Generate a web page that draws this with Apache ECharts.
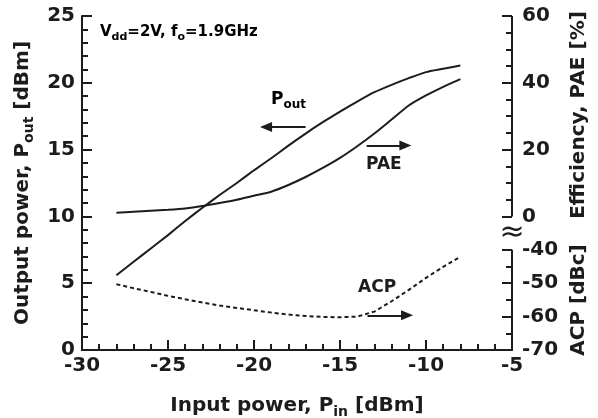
<!DOCTYPE html>
<html>
<head>
<meta charset="utf-8">
<script src="https://cdn.jsdelivr.net/npm/echarts@6/dist/echarts.min.js"></script>
<style>
  html, body { margin: 0; padding: 0; background: #fff; }
  #chart { width: 598px; height: 418px; }
</style>
</head>
<body>
<div id="chart"></div>
<script>
// input power sweep [dBm]
const pin = [-28, -27, -26, -25, -24, -23, -22, -21, -20, -19, -18, -17, -16, -15, -14, -13, -12, -11, -10, -9, -8]
// output power [dBm] (left axis)
const pout = [5.6, 6.6, 7.6, 8.6, 9.65, 10.65, 11.6, 12.5, 13.45, 14.35, 15.3, 16.2, 17.05, 17.85, 18.6, 19.3, 19.85, 20.35, 20.8, 21.05, 21.3]
// power added efficiency [%] (right axis, upper part)
const pae = [1.1, 1.4, 1.7, 2.0, 2.4, 3.1, 4.0, 5.0, 6.2, 7.4, 9.4, 11.8, 14.5, 17.5, 21.0, 24.8, 29.0, 33.2, 36.2, 38.8, 41.1]
// adjacent channel power [dBc] (right axis, lower part)
const acp = [-50.3, -51.5, -52.6, -53.8, -54.8, -55.8, -56.7, -57.4, -58.1, -58.8, -59.4, -59.8, -60.1, -60.2, -60.0, -58.5, -55.4, -52.0, -48.4, -45.1, -42.1]

// right axis tick labels
const effTicks = [0, 20, 40, 60]
const effMinor = [5, 10, 15, 25, 30, 35, 45, 50, 55]
const acpTicks = [-70, -60, -50, -40]
const acpMinor = [-65, -55, -45]

// the right axis is broken: ACP -70..-40 sits below, efficiency 0..60 above
const effToAxis = v => v + 40
const acpToAxis = v => v + 70
const axisToLabel = a => (a >= 40 ? a - 40 : a - 70)

const FONT = 'DejaVu Sans'
const INK = '#1c1c1c'

const chart = echarts.init(document.getElementById('chart'))

const subRich = size => ({
  n: { fontFamily: FONT, fontWeight: 'bold', fontSize: size, color: INK },
  s: { fontFamily: FONT, fontWeight: 'bold', fontSize: Math.round(size * 0.7), color: INK, padding: [Math.round(size * 0.6), 0, 0, 0] }
})

const option = {
  animation: false,
  grid: { left: 82, right: 86, top: 16, bottom: 68, containLabel: false, outerBoundsMode: 'none' },
  xAxis: [
    {
      type: 'value', min: -30, max: -5, interval: 5,
      name: '{n|Input power, P}{s|in}{n| [dBm]}',
      nameLocation: 'middle', nameGap: 43,
      nameTextStyle: { rich: subRich(20) },
      axisLine: { lineStyle: { color: INK, width: 2 } },
      axisTick: { inside: true, length: 10, lineStyle: { color: INK, width: 2 } },
      minorTick: { show: true, splitNumber: 5, length: 6, lineStyle: { color: INK, width: 2 } },
      axisLabel: { color: INK, fontFamily: FONT, fontWeight: 'bold', fontSize: 20, margin: 6 },
      splitLine: { show: false }
    },
    {
      // top frame line
      type: 'value', position: 'top', min: -30, max: -5,
      axisLine: { show: true, lineStyle: { color: INK, width: 2 } },
      axisTick: { show: false }, axisLabel: { show: false }, splitLine: { show: false }
    }
  ],
  yAxis: [
    {
      type: 'value', min: 0, max: 25, interval: 5,
      name: '{n|Output power, P}{s|out}{n| [dBm]}',
      nameLocation: 'middle', nameGap: 44, nameRotate: 90,
      nameTextStyle: { rich: subRich(20) },
      axisLine: { show: true, lineStyle: { color: INK, width: 2 } },
      axisTick: { inside: true, length: 10, lineStyle: { color: INK, width: 2 } },
      minorTick: { show: true, splitNumber: 5, length: 6, lineStyle: { color: INK, width: 2 } },
      axisLabel: { color: INK, fontFamily: FONT, fontWeight: 'bold', fontSize: 20, margin: 7 },
      splitLine: { show: false }
    },
    {
      type: 'value', position: 'right', offset: 0, min: 0, max: 100,
      axisLine: { show: false },
      axisTick: {
        show: true, inside: true, length: 10, lineStyle: { color: INK, width: 2 },
        customValues: [...acpTicks.map(acpToAxis), ...effTicks.map(effToAxis)]
      },
      axisLabel: {
        color: INK, fontFamily: FONT, fontWeight: 'bold', fontSize: 20, margin: 10,
        customValues: [...acpTicks.map(acpToAxis), ...effTicks.map(effToAxis)],
        formatter: v => String(axisToLabel(v))
      },
      splitLine: { show: false }
    },
    {
      type: 'value', position: 'right', offset: 0, min: 0, max: 100,
      axisLine: { show: false },
      axisTick: {
        show: true, inside: true, length: 6, lineStyle: { color: INK, width: 2 },
        customValues: [...acpMinor.map(acpToAxis), ...effMinor.map(effToAxis)]
      },
      axisLabel: { show: false },
      splitLine: { show: false }
    }
  ],
  graphic: [
    {
      type: 'text', left: 100, top: 25,
      style: { text: '{n|V}{s|dd}{n|=2V, f}{s|o}{n|=1.9GHz}', rich: subRich(15) }
    },
    {
      type: 'text', left: 271, top: 91,
      style: { text: '{n|P}{s|out}', rich: subRich(17) }
    },
    {
      type: 'text', left: 366, top: 156,
      style: { text: 'PAE', fill: INK, font: 'bold 17px "' + FONT + '"' }
    },
    {
      type: 'text', left: 358, top: 279,
      style: { text: 'ACP', fill: INK, font: 'bold 17px "' + FONT + '"' }
    },
    {
      type: 'text', x: 579, y: 115, rotation: Math.PI / 2,
      style: { text: 'Efficiency, PAE [%]', fill: INK, font: 'bold 20px "' + FONT + '"', align: 'center', verticalAlign: 'middle' }
    },
    {
      type: 'text', x: 579, y: 300, rotation: Math.PI / 2,
      style: { text: 'ACP [dBc]', fill: INK, font: 'bold 20px "' + FONT + '"', align: 'center', verticalAlign: 'middle' }
    }
  ],
  series: [
    {
      name: 'Pout', type: 'line', xAxisIndex: 0, yAxisIndex: 0,
      data: pin.map((x, i) => [x, pout[i]]),
      showSymbol: false, clip: false, smooth: 0.2,
      lineStyle: { color: INK, width: 2 },
      markLine: {
        silent: true, symbol: ['none', 'triangle'], symbolSize: [10, 12],
        label: { show: false },
        lineStyle: { color: INK, width: 2, type: 'solid' },
        data: [
          [{ coord: [-17.0, 16.7] }, { coord: [-19.3, 16.7] }],
          [{ coord: [-13.45, 15.3] }, { coord: [-11.2, 15.3] }],
          [{ coord: [-13.4, 2.6] }, { coord: [-11.1, 2.6] }]
        ]
      }
    },
    {
      name: 'PAE', type: 'line', xAxisIndex: 0, yAxisIndex: 1,
      data: pin.map((x, i) => [x, effToAxis(pae[i])]),
      showSymbol: false, clip: false, smooth: 0.2,
      lineStyle: { color: INK, width: 2 },
      // broken right axis line and the break mark
      markLine: {
        silent: true, symbol: 'none', label: { show: false },
        lineStyle: { color: INK, width: 2, type: 'solid' },
        data: [
          [{ coord: [-5, acpToAxis(-70)] }, { coord: [-5, acpToAxis(-40)] }],
          [{ coord: [-5, effToAxis(0)] }, { coord: [-5, effToAxis(60)] }]
        ]
      },
      markPoint: {
        silent: true, symbol: 'circle', symbolSize: 1,
        itemStyle: { color: 'rgba(0,0,0,0)' },
        label: { show: true, position: 'inside', formatter: '\u2248', color: INK, fontSize: 30, fontFamily: FONT },
        data: [{ coord: [-5, 35] }]
      }
    },
    {
      name: 'ACP', type: 'line', xAxisIndex: 0, yAxisIndex: 1,
      data: pin.map((x, i) => [x, acpToAxis(acp[i])]),
      showSymbol: false, clip: false,
      lineStyle: { color: INK, width: 2, type: [4, 3] }
    }
  ]
}

chart.setOption(option)
window.addEventListener('resize', () => chart.resize())
</script>
</body>
</html>
